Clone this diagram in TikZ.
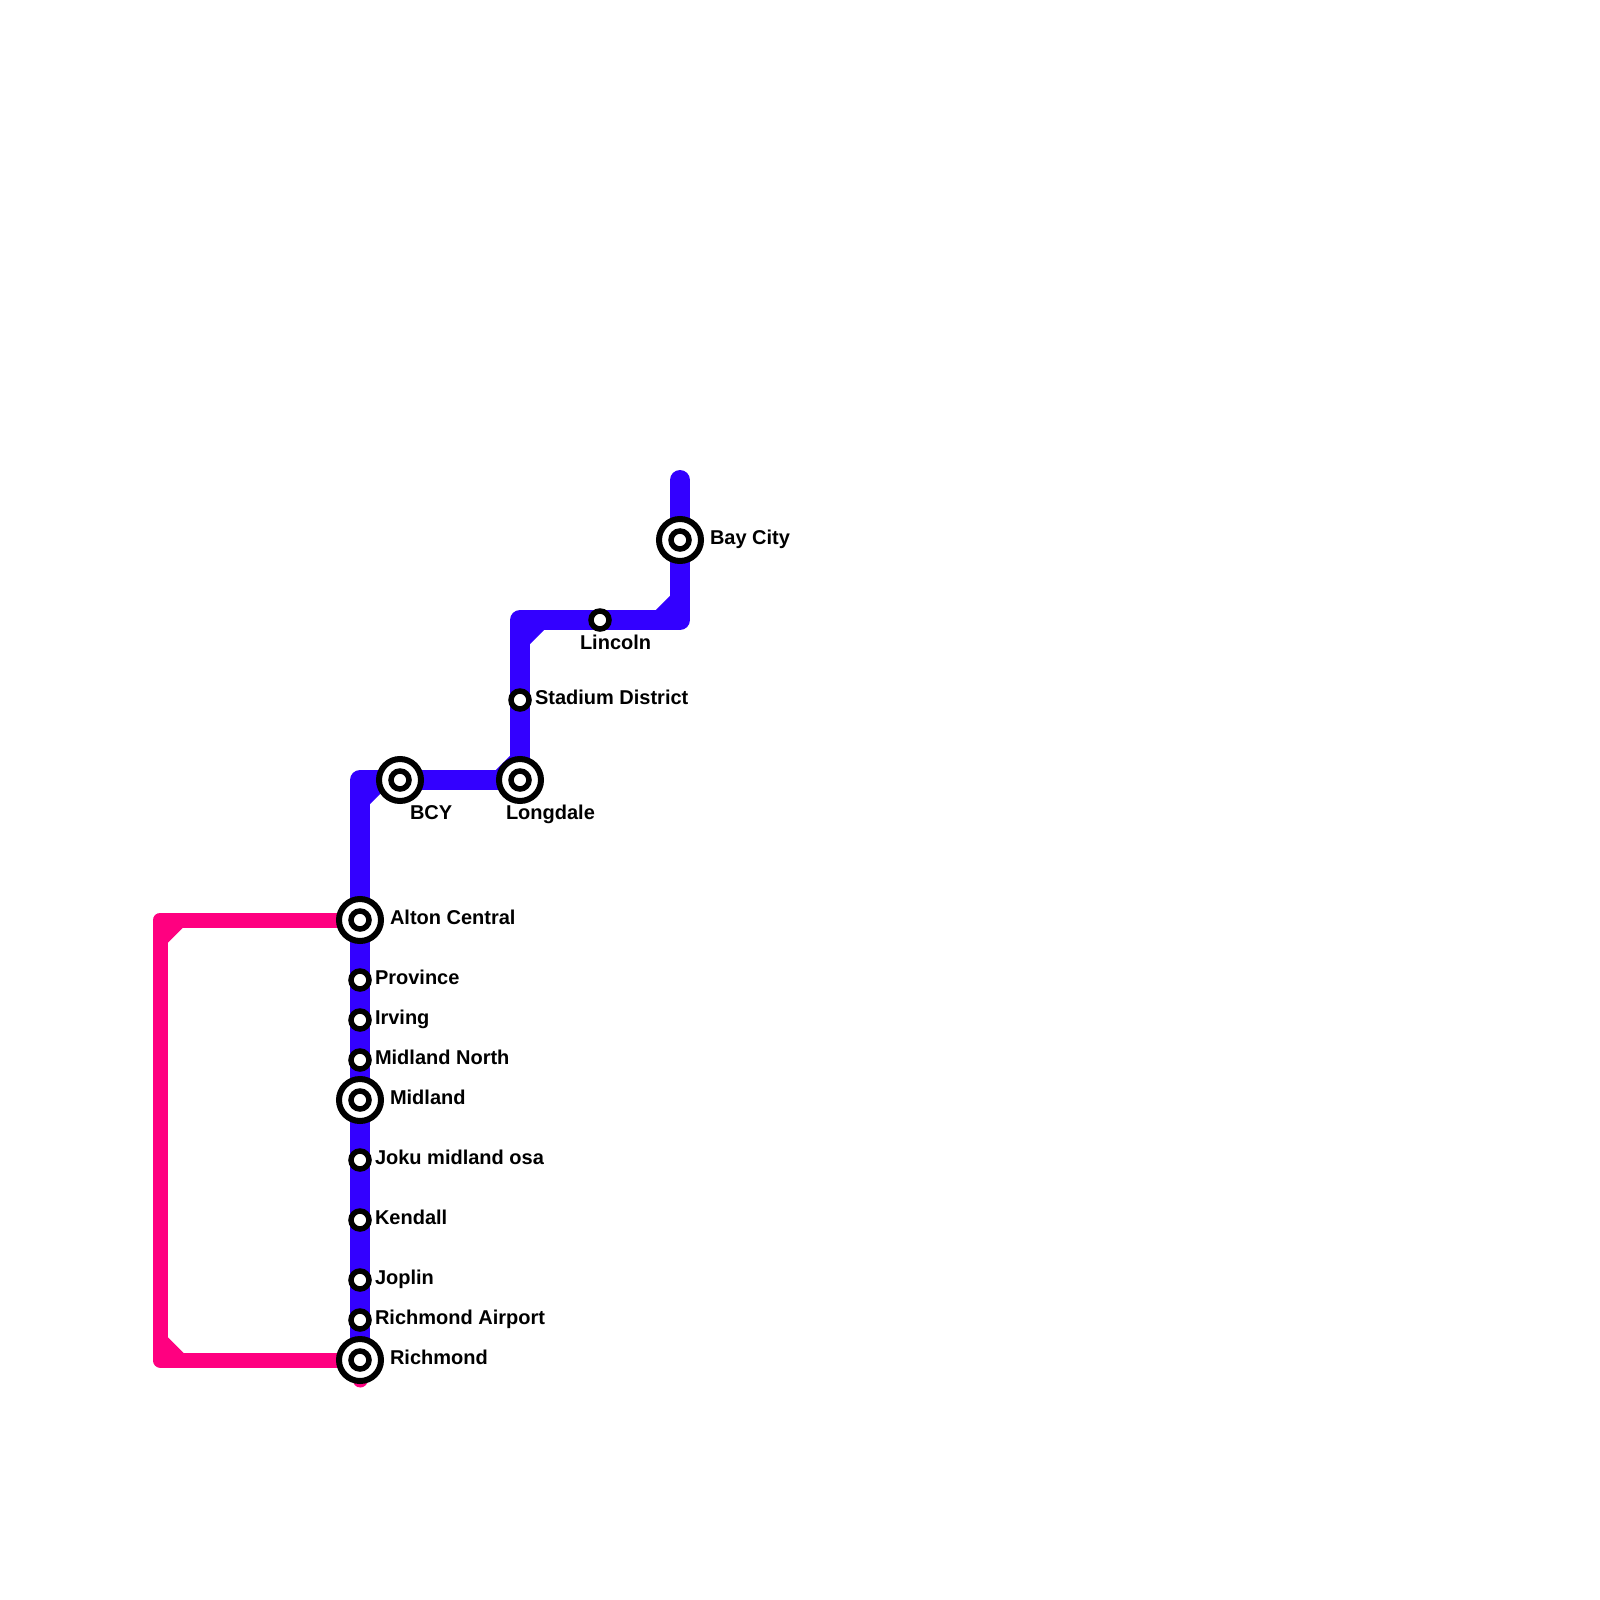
\documentclass[tikz,border=0pt]{standalone}
\usepackage{fontspec}
\setmainfont{Liberation Sans}
\definecolor{bluel}{HTML}{3300FF}
\definecolor{pinkl}{HTML}{FF0080}
\tikzset{
  blueline/.style={draw=bluel,line width=10pt,line cap=round,line join=round},
  pinkline/.style={draw=pinkl,line width=7.5pt,line cap=round,line join=round},
  bluefill/.style={draw=bluel,line width=10pt,line cap=butt},
  pinkfill/.style={draw=pinkl,line width=7.5pt,line cap=butt},
  smallst/.style={circle,draw=black,fill=white,inner sep=0pt,minimum size=9pt,line width=2.75pt},
  bigst/.style={circle,draw=black,fill=white,inner sep=0pt,minimum size=21pt,line width=3pt},
  stlabel/.style={anchor=base west,inner sep=0pt,outer sep=0pt,font=\fontsize{10pt}{12pt}\bfseries,text=black}
}
\begin{document}
\begin{tikzpicture}[x=0.5pt,y=-0.5pt]
\useasboundingbox (0,0) rectangle (1600,1600);
% track points
\coordinate (pt) at (680,480);
\coordinate (baycity) at (680,540);
\coordinate (c1) at (680,620);
\coordinate (lincoln) at (600,620);
\coordinate (c2) at (520,620);
\coordinate (stadium) at (520,700);
\coordinate (longdale) at (520,780);
\coordinate (bcy) at (400,780);
\coordinate (c3) at (360,780);
\coordinate (alton) at (360,920);
\coordinate (province) at (360,980);
\coordinate (irving) at (360,1020);
\coordinate (midnorth) at (360,1060);
\coordinate (midland) at (360,1100);
\coordinate (joku) at (360,1160);
\coordinate (kendall) at (360,1220);
\coordinate (joplin) at (360,1280);
\coordinate (airport) at (360,1320);
\coordinate (richmond) at (360,1360);
\coordinate (pend) at (360,1380);
\coordinate (p1) at (160,920);
\coordinate (p2) at (160,1360);
% chamfer ends
\coordinate (d1a) at (660,620); \coordinate (d1b) at (680,600);
\coordinate (d2a) at (520,640); \coordinate (d2b) at (540,620);
\coordinate (d3a) at (500,780); \coordinate (d3b) at (520,760);
\coordinate (d4a) at (360,800); \coordinate (d4b) at (380,780);
\coordinate (d5a) at (160,940); \coordinate (d5b) at (180,920);
\coordinate (d6a) at (160,1340); \coordinate (d6b) at (180,1360);
% pink line
\draw[pinkline] (alton) -- (p1) -- (p2) -- (richmond) -- (pend);
\draw[pinkfill] (d5a) -- (d5b);
\draw[pinkfill] (d6a) -- (d6b);
% blue line
\draw[blueline] (pt) -- (c1) -- (c2) -- (longdale) -- (c3) -- (richmond);
\draw[bluefill] (d1a) -- (d1b);
\draw[bluefill] (d2a) -- (d2b);
\draw[bluefill] (d3a) -- (d3b);
\draw[bluefill] (d4a) -- (d4b);
% interchange stations
\node[bigst] (sBay) at (baycity) {}; \node[smallst] (sBayIn) at (baycity) {};
\node[bigst] (sLong) at (longdale) {}; \node[smallst] (sLongIn) at (longdale) {};
\node[bigst] (sBcy) at (bcy) {}; \node[smallst] (sBcyIn) at (bcy) {};
\node[bigst] (sAlton) at (alton) {}; \node[smallst] (sAltonIn) at (alton) {};
\node[bigst] (sMid) at (midland) {}; \node[smallst] (sMidIn) at (midland) {};
\node[bigst] (sRich) at (richmond) {}; \node[smallst] (sRichIn) at (richmond) {};
% plain stations
\node[smallst] (sLin) at (lincoln) {};
\node[smallst] (sSta) at (stadium) {};
\node[smallst] (sPro) at (province) {};
\node[smallst] (sIrv) at (irving) {};
\node[smallst] (sMN) at (midnorth) {};
\node[smallst] (sJok) at (joku) {};
\node[smallst] (sKen) at (kendall) {};
\node[smallst] (sJop) at (joplin) {};
\node[smallst] (sAir) at (airport) {};
% labels
\node[stlabel] (lBay) at (710,544.8) {Bay City};
\node[stlabel] (lLin) at (580,649.8) {Lincoln};
\node[stlabel] (lSta) at (535,704.8) {Stadium District};
\node[stlabel] (lBcy) at (410,819) {BCY};
\node[stlabel] (lLong) at (506,819) {Longdale};
\node[stlabel] (lAlt) at (390,924.8) {Alton Central};
\node[stlabel] (lPro) at (375,984.8) {Province};
\node[stlabel] (lIrv) at (375,1024.8) {Irving};
\node[stlabel] (lMN) at (375,1064.8) {Midland North};
\node[stlabel] (lMid) at (390,1104.8) {Midland};
\node[stlabel] (lJok) at (375,1164.8) {Joku midland osa};
\node[stlabel] (lKen) at (375,1224.8) {Kendall};
\node[stlabel] (lJop) at (375,1284.8) {Joplin};
\node[stlabel] (lAir) at (375,1324.8) {Richmond Airport};
\node[stlabel] (lRich) at (390,1364.8) {Richmond};
\end{tikzpicture}
\end{document}
